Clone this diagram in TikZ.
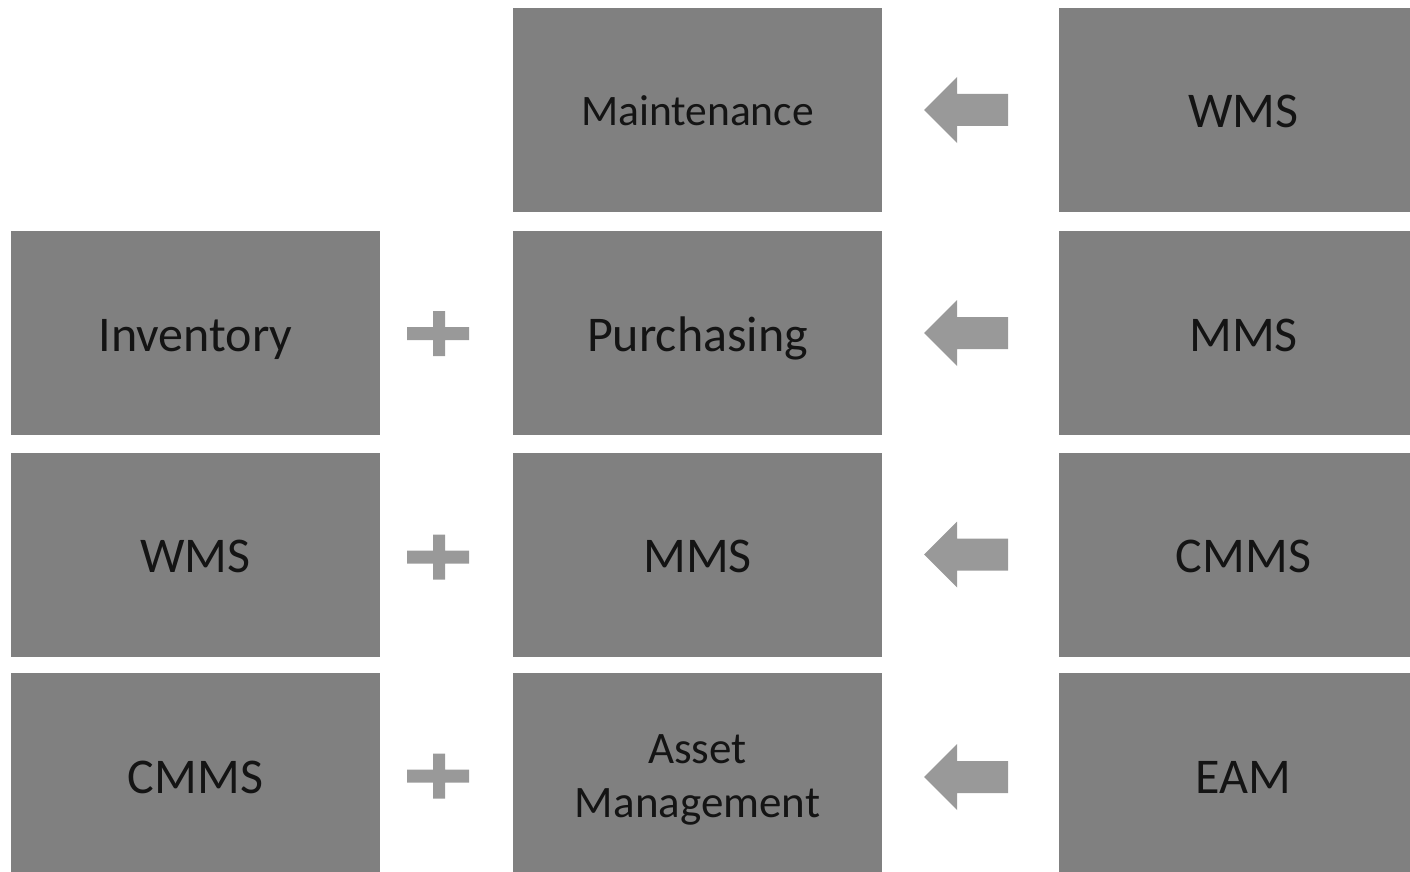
\documentclass[tikz,border=0pt]{standalone}
\usepackage{fontspec}
\setmainfont{Carlito}
\begin{document}
\begin{tikzpicture}[x=1pt,y=-1pt,
  box/.style={fill=boxgray, draw=none, minimum width=369pt, minimum height=204pt, inner sep=0pt, text=textdark, align=center, anchor=center},
  big/.style={font=\fontsize{50}{55}\selectfont, text height=36pt, text depth=0pt},
  mid/.style={font=\fontsize{43.5}{55}\selectfont, text height=30pt, text depth=0pt},
  lbl/.style={text=textdark, align=center, inner sep=0pt, font=\fontsize{45}{54}\selectfont},
  symb/.style={fill=symgray, draw=none}]
\definecolor{boxgray}{HTML}{808080}
\definecolor{symgray}{HTML}{999999}
\definecolor{textdark}{HTML}{141414}
\useasboundingbox (0,0) rectangle (1410,872);
\clip (0,0) rectangle (1410,872);
% column 2
\node[box,mid] (maint) at (697.5,110) {Maintenance};
\node[box,big] (purch) at (697.5,333) {Purchasing};
\node[box,big] (mms2) at (697.5,554.5) {MMS};
\node[box] (asset) at (697.5,775) {};
\node[lbl] (assetlbl) at (697.5,780) {Asset\\Management};
% column 1
\node[box,big] (inv) at (195.5,333) {Inventory};
\node[box,big] (wms1) at (195.5,554.5) {WMS};
\node[box,big] (cmms1) at (195.5,775) {CMMS};
% column 3
\node[box,big] (wms3) at (1243.5,110) {WMS};
\node[box,big] (mms3) at (1243.5,333) {MMS};
\node[box,big] (cmms3) at (1243.5,554.5) {CMMS};
\node[box,big] (eam3) at (1243.5,775) {EAM};
% arrows
\foreach \yy in {110,333,554.5,777}{
  \fill[symb] (924,\yy) -- (957,\yy-33) -- (957,\yy-16) -- (1008,\yy-16) -- (1008,\yy+16) -- (957,\yy+16) -- (957,\yy+33) -- cycle;
}
% plus signs
\foreach \yy in {333.5,557,776}{
  \fill[symb] (407,\yy-6.5) -- (433,\yy-6.5) -- (433,\yy-22.5) -- (445,\yy-22.5) -- (445,\yy-6.5) -- (469,\yy-6.5) -- (469,\yy+6.5) -- (445,\yy+6.5) -- (445,\yy+22.5) -- (433,\yy+22.5) -- (433,\yy+6.5) -- (407,\yy+6.5) -- cycle;
}
\end{tikzpicture}
\end{document}
